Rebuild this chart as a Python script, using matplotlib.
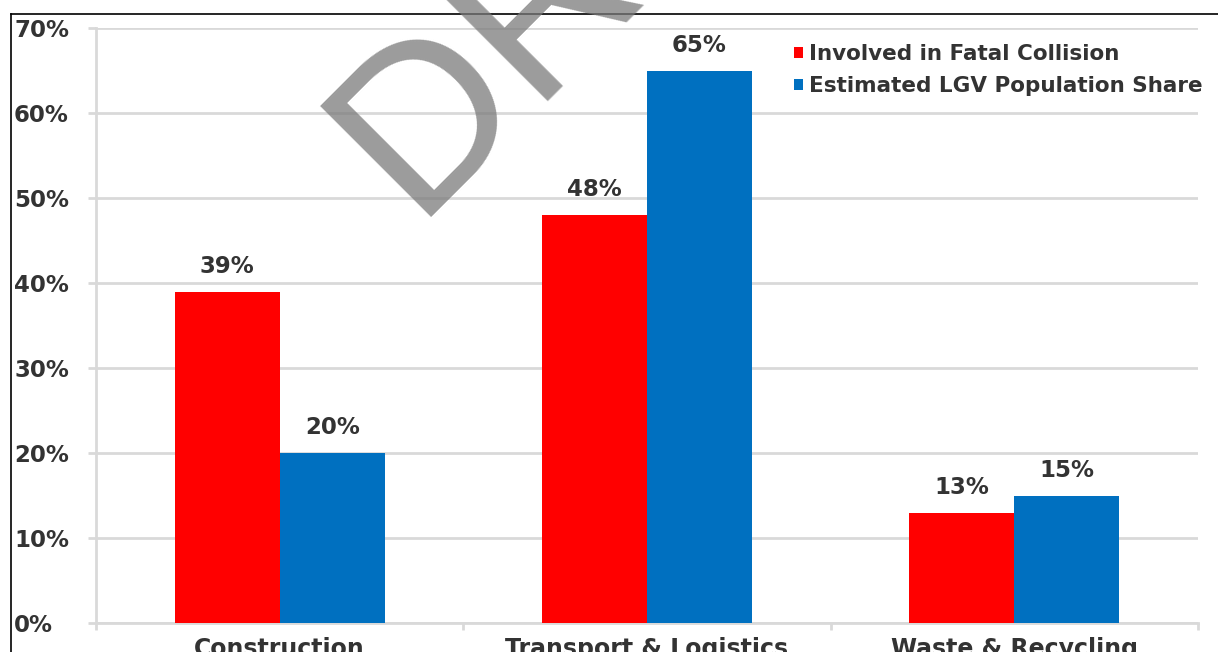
import matplotlib.pyplot as plt
from matplotlib.lines import Line2D
import numpy as np

categories = ['Construction', 'Transport & Logistics', 'Waste & Recycling']
fatal = [39, 48, 13]
population = [20, 65, 15]
series_names = ['Involved in Fatal Collision', 'Estimated LGV Population Share']
yticks = [0, 10, 20, 30, 40, 50, 60, 70]

plt.rcParams['font.family'] = ['DejaVu Sans']

W, H = 1218, 652
fig = plt.figure(figsize=(W / 100, H / 100), dpi=100)
ax = fig.add_axes([96 / W, 29 / H, 1102 / W, 595 / H])

x = np.arange(len(categories))
w = 0.286
red = '#FF0000'
blue = '#0070C0'
txt = '#333333'
grid = '#D9D9D9'

b1 = ax.bar(x - w / 2, fatal, w, color=red, label=series_names[0], zorder=3)
b2 = ax.bar(x + w / 2, population, w, color=blue, label=series_names[1], zorder=3)

# value labels above the bars
for bars, vals in ((b1, fatal), (b2, population)):
    for b, v in zip(bars, vals):
        ax.annotate(f'{v}%', (b.get_x() + b.get_width() / 2, v),
                    xytext=(0, 10), textcoords='offset points',
                    ha='center', va='bottom', fontsize=16.5,
                    fontweight='bold', color=txt)

ax.set_xlim(-0.5, 2.5)
ax.set_ylim(0, 70)
ax.set_yticks(yticks)
ax.set_yticklabels([f'{t}%' for t in yticks], fontsize=16.5,
                   fontweight='bold', color=txt)
for lbl in ax.get_yticklabels():
    lbl.set_ha('left')
ax.tick_params(axis='y', length=6, color=grid, width=2, pad=53)
ax.yaxis.grid(True, color=grid, linewidth=2, zorder=0)

ax.set_xticks([-0.5, 0.5, 1.5, 2.5])
ax.set_xticklabels([])
ax.set_xticks(x, minor=True)
ax.set_xticklabels(categories, minor=True, fontsize=17,
                   fontweight='bold', color=txt)
ax.tick_params(axis='x', which='major', length=5, color=grid, width=2)
ax.tick_params(axis='x', which='minor', length=0, pad=10)

for s in ('top', 'right'):
    ax.spines[s].set_visible(False)
for s in ('left', 'bottom'):
    ax.spines[s].set_color(grid)
    ax.spines[s].set_linewidth(2)

leg = ax.legend(loc='upper right', bbox_to_anchor=(1.022, 1.005), frameon=False,
                fontsize=15.5, handlelength=0.4, handleheight=0.4,
                handletextpad=0.3, labelspacing=0.55)
for t in leg.get_texts():
    t.set_fontweight('bold')
    t.set_color(txt)

# black frame lines at the top and left edge
fig.add_artist(Line2D([11 / W, 1], [1 - 14 / H, 1 - 14 / H], color='black', lw=1.2))
fig.add_artist(Line2D([11 / W, 11 / W], [0, 1 - 14 / H], color='black', lw=1.2))

# watermark
fig.text(413 / W, 1 - 218 / H, 'DRAFT', rotation=45, rotation_mode='anchor',
         ha='left', va='baseline', fontsize=165, color='#7a7a7a', alpha=0.75,
         family='Liberation Sans', zorder=10)

fig.savefig('out.png', dpi=100)
